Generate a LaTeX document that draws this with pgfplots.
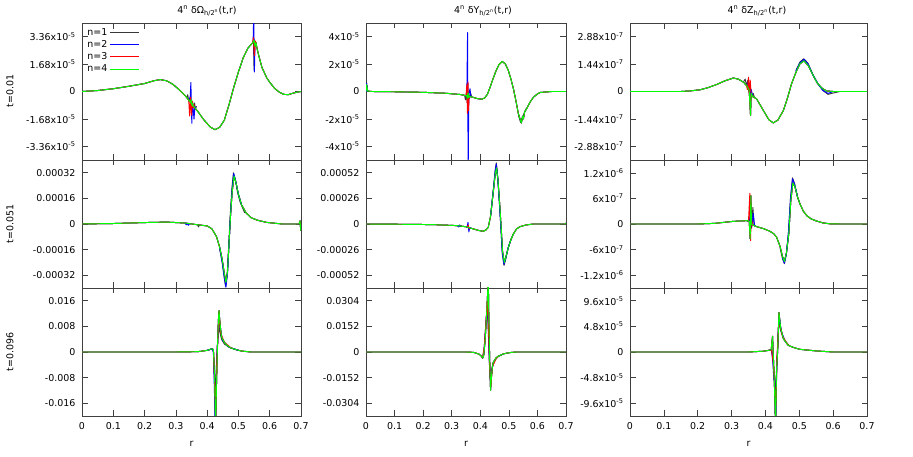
\documentclass[border=0pt]{standalone}
\usepackage{fontspec}
\setmainfont{DejaVu Sans}
\usepackage{pgfplots}
\usepackage{pgfplotstable}
\pgfplotsset{compat=1.18}
\definecolor{cA}{rgb}{0.22,0.22,0.22}
\definecolor{cB}{rgb}{0,0,1}
\definecolor{cC}{rgb}{1,0,0}
\definecolor{cD}{rgb}{0,1,0}
\definecolor{frm}{rgb}{0.25,0.25,0.25}

% ---------- base curves (n=4, shared by all series away from the features) ----------
\pgfplotstableread{
r y
0 0
0.05 0.6e-6
0.1 1.7e-6
0.15 3.2e-6
0.2 4.9e-6
0.23 6.6e-6
0.25 7.3e-6
0.27 6.6e-6
0.29 4.5e-6
0.31 1.2e-6
0.33 -2.6e-6
0.35 -7.4e-6
0.37 -12.2e-6
0.39 -17.5e-6
0.41 -21.8e-6
0.425 -23.4e-6
0.44 -22.0e-6
0.455 -17.5e-6
0.47 -8.0e-6
0.485 2.5e-6
0.5 12.0e-6
0.515 20.5e-6
0.53 26.5e-6
0.545 29.8e-6
0.55 31.5e-6
0.553 27.5e-6
0.556 30.0e-6
0.56 26.0e-6
0.565 22.0e-6
0.575 14.9e-6
0.59 8.5e-6
0.6 5.7e-6
0.615 2.0e-6
0.63 -0.3e-6
0.645 -1.8e-6
0.66 -1.9e-6
0.675 -1.0e-6
0.69 -0.3e-6
0.7 0
}\tA
\pgfplotstableread{
r y
0 0
0.1 0.3e-5
0.2 0.9e-5
0.27 1.2e-5
0.33 0.6e-5
0.37 -0.5e-5
0.4 -1.2e-5
0.415 -3.0e-5
0.43 -7.9e-5
0.44 -14.5e-5
0.448 -22e-5
0.455 -31e-5
0.46 -36.5e-5
0.465 -30e-5
0.47 -12e-5
0.475 6e-5
0.48 20e-5
0.486 30e-5
0.492 26e-5
0.5 18.5e-5
0.51 12e-5
0.525 6.8e-5
0.54 4e-5
0.56 2.4e-5
0.59 1e-5
0.64 0
0.694 0
0.697 2e-5
0.699 -4e-5
0.7 0
}\tB
\pgfplotstableread{
r y
0 0
0.3 0
0.37 0.0001
0.4 0.0005
0.415 0.001
0.42 0.0008
0.424 -0.008
0.427 -0.025
0.43 -0.01
0.433 0.002
0.436 0.010
0.438 0.0129
0.441 0.009
0.446 0.0047
0.455 0.0030
0.463 0.0021
0.475 0.0013
0.49 0.0008
0.51 0.0003
0.54 0
0.7 0
}\tC
\pgfplotstableread{
r y
0 0
0.002 5e-6
0.006 0.3e-6
0.02 0
0.1 -0.2e-6
0.2 -0.6e-6
0.28 -1.3e-6
0.33 -2.2e-6
0.35 -3.0e-6
0.37 -4.0e-6
0.39 -5.2e-6
0.405 -5.6e-6
0.415 -4.8e-6
0.425 -2.0e-6
0.435 3.5e-6
0.445 9.5e-6
0.455 15e-6
0.465 19.5e-6
0.477 22e-6
0.488 20e-6
0.498 15.4e-6
0.508 8.5e-6
0.516 2e-6
0.525 -7e-6
0.533 -16e-6
0.539 -20e-6
0.544 -23e-6
0.548 -18e-6
0.551 -20e-6
0.555 -15e-6
0.562 -12.6e-6
0.575 -7.5e-6
0.586 -4.2e-6
0.6 -1.8e-6
0.61 -0.7e-6
0.65 0
0.7 0
}\tD
\pgfplotstableread{
r y
0 0
0.1 -0.2e-5
0.2 -0.5e-5
0.24 -0.7e-5
0.3 -1.4e-5
0.32 -1.7e-5
0.35 -2.8e-5
0.376 -5e-5
0.395 -6.6e-5
0.41 -7.4e-5
0.42 -6.0e-5
0.428 -3.4e-5
0.436 8e-5
0.446 34e-5
0.452 50e-5
0.457 57e-5
0.462 44e-5
0.467 24e-5
0.473 -3e-5
0.478 -28e-5
0.484 -39e-5
0.49 -33e-5
0.498 -24e-5
0.507 -16e-5
0.516 -10e-5
0.527 -5e-5
0.539 -2.7e-5
0.56 -1e-5
0.586 0
0.698 0
0.7 1e-5
}\tE
\pgfplotstableread{
r y
0 0
0.35 0
0.376 -0.0002
0.395 -0.0012
0.404 -0.0025
0.408 -0.0036
0.412 -0.002
0.417 0.0069
0.422 0.022
0.426 0.036
0.428 0.045
0.430 0.02
0.433 -0.005
0.436 -0.0228
0.439 -0.015
0.443 -0.008
0.446 -0.006
0.455 -0.0035
0.463 -0.0025
0.48 -0.0012
0.492 -0.0007
0.51 -0.0002
0.53 0
0.7 0
}\tF
\pgfplotstableread{
r y
0 0
0.15 0
0.177 0.3e-8
0.207 0.9e-8
0.23 2.0e-8
0.256 3.7e-8
0.28 5.6e-8
0.305 7.1e-8
0.32 6.5e-8
0.335 4.9e-8
0.345 3.0e-8
0.352 0.5e-8
0.356 -12.6e-8
0.358 -1e-8
0.362 -2.5e-8
0.374 -3.9e-8
0.394 -10e-8
0.41 -14.8e-8
0.423 -16.5e-8
0.437 -15e-8
0.453 -10e-8
0.465 -3.5e-8
0.477 4e-8
0.49 10e-8
0.502 14.6e-8
0.514 16.1e-8
0.527 13.5e-8
0.541 8.4e-8
0.553 4.5e-8
0.566 1.9e-8
0.58 0.3e-8
0.6 0
0.7 0
}\tG
\pgfplotstableread{
r y
0 0
0.2 0
0.25 1.5e-8
0.305 6.2e-8
0.345 7.8e-8
0.352 7e-8
0.355 -3.5e-7
0.357 6.6e-7
0.359 -1e-8
0.364 -3e-8
0.374 -6.2e-8
0.395 -1.1e-7
0.413 -1.7e-7
0.425 -2.3e-7
0.433 -3.1e-7
0.443 -5.2e-7
0.45 -7.5e-7
0.456 -8.8e-7
0.462 -6.8e-7
0.469 -2.3e-7
0.475 5.5e-7
0.481 9.6e-7
0.487 8.8e-7
0.495 6.3e-7
0.502 4.7e-7
0.512 3e-7
0.522 1.95e-7
0.535 1.2e-7
0.551 7e-8
0.57 2.5e-8
0.59 0.5e-8
0.62 0
0.7 0
}\tH
\pgfplotstableread{
r y
0 0
0.35 0
0.394 1.5e-6
0.409 3e-6
0.417 4e-6
0.421 2.95e-5
0.423 0
0.426 -5e-5
0.43 -1.4e-4
0.433 -3e-5
0.436 0
0.44 7.4e-5
0.445 4.5e-5
0.453 2.5e-5
0.467 1.26e-5
0.485 8e-6
0.502 5e-6
0.55 2e-6
0.6 0
0.7 0
}\tI

\pgfplotsset{
  panel/.style={scale only axis, anchor=south west,
    xmin=0, xmax=0.7,
    xtick={0,0.1,0.2,0.3,0.4,0.5,0.6,0.7}, xticklabels={},
    tick align=inside, major tick length=5.5bp,
    every tick/.style={frm, line width=0.6bp},
    axis line style={frm, line width=0.8bp},
    scaled y ticks=false, scaled x ticks=false,
    yticklabel style={xshift=-3bp},
    xticklabel style={yshift=-3bp},
    every axis plot/.append style={line width=0.95bp, line join=round},
    clip=true},
  s1/.style={cA}, s2/.style={cB}, s3/.style={cC}, s4/.style={cD},
  bottom/.style={xticklabels={0,0.1,0.2,0.3,0.4,0.5,0.6,0.7}},
}

\begin{document}
\begin{tikzpicture}[font=\fontsize{9.5}{11}\selectfont]
\path[use as bounding box] (0,0) rectangle (913bp,457bp);

% ===== Row 1 =====
\begin{axis}[panel, at={(82bp,297bp)}, width=219bp, height=137bp,
  ymin=-4.2e-5, ymax=4.2e-5,
  ytick={-3.36e-5,-1.68e-5,0,1.68e-5,3.36e-5},
  yticklabels={-3.36x10\textsuperscript{-5},-1.68x10\textsuperscript{-5},0,1.68x10\textsuperscript{-5},3.36x10\textsuperscript{-5}},
  legend plot pos=right,
  legend image code/.code={\draw[#1, line width=0.95bp] (0bp,0bp) -- (29bp,0bp);},
  legend style={at={(0.015,0.975)}, anchor=north west, draw=none, fill=none,
    inner sep=0pt, row sep=-0.4pt, cells={anchor=west},
    nodes={inner sep=2pt, font=\fontsize{9.5}{11}\selectfont}}]
\addplot[s1] table {\tA}; \addlegendentry{n=1}
\addplot[s2] table {\tA}; \addlegendentry{n=2}
\addplot[s3] table {\tA}; \addlegendentry{n=3}
\addplot[s1, forget plot] coordinates {(0.335,-3.5e-6)(0.338,-2.0e-6)(0.341,-6e-6)(0.344,-4e-6)(0.35,-8e-6)(0.358,-9e-6)(0.36,-7e-6)(0.362,-11e-6)(0.366,-9e-6)};
\addplot[s1, forget plot] coordinates {(0.545,30e-6)(0.548,31e-6)(0.55,13e-6)(0.552,29e-6)(0.556,29e-6)};
\addplot[s2, forget plot] coordinates {(0.343,-5e-6)(0.346,-3e-6)(0.348,5.5e-6)(0.351,-19.5e-6)(0.353,-6e-6)(0.356,-12e-6)(0.358,-17e-6)(0.361,-9e-6)};
\addplot[s2, forget plot] coordinates {(0.544,29.5e-6)(0.547,31e-6)(0.549,48e-6)(0.551,12e-6)(0.553,28e-6)(0.557,29e-6)};
\addplot[s3, forget plot] coordinates {(0.341,-4.5e-6)(0.344,-15e-6)(0.347,-3.5e-6)(0.35,-14.5e-6)(0.353,-6e-6)(0.356,-10e-6)(0.359,-8e-6)};
\addplot[s3, forget plot] coordinates {(0.545,29.8e-6)(0.548,33e-6)(0.551,22e-6)(0.554,31e-6)(0.558,27e-6)};
\addplot[s4] table {\tA}; \addlegendentry{n=4}
\addplot[s4, forget plot] coordinates {(0.347,-6e-6)(0.35,-5e-6)(0.352,-9e-6)(0.355,-7e-6)};
\end{axis}

\begin{axis}[panel, at={(366bp,297bp)}, width=200bp, height=137bp,
  ymin=-5e-5, ymax=5e-5,
  ytick={-4e-5,-2e-5,0,2e-5,4e-5},
  yticklabels={-4x10\textsuperscript{-5},-2x10\textsuperscript{-5},0,2x10\textsuperscript{-5},4x10\textsuperscript{-5}}]
\addplot[s1] table {\tD};
\addplot[s2] table {\tD};
\addplot[s3] table {\tD};
\addplot[s1] coordinates {(0,0)(0.002,6.5e-6)(0.004,0)};
\addplot[s1] coordinates {(0.345,-2.8e-6)(0.348,-6e-6)(0.352,-2e-6)(0.354,-8e-6)(0.357,-1e-6)(0.362,-5e-6)(0.366,-1e-6)(0.37,-4e-6)};
\addplot[s1] coordinates {(0.533,-17e-6)(0.541,-22.5e-6)(0.549,-18.5e-6)(0.56,-12.5e-6)};
\addplot[s2] coordinates {(0,0)(0.002,6e-6)(0.005,0)};
\addplot[s2] coordinates {(0.35,-3e-6)(0.353,-1e-6)(0.3555,43e-6)(0.3575,-60e-6)(0.36,-2e-6)(0.364,2e-6)(0.367,-4e-6)};
\addplot[s3] coordinates {(0.35,-3e-6)(0.353,5e-6)(0.355,-16e-6)(0.357,7e-6)(0.359,-14e-6)(0.361,-3e-6)};
\addplot[s4] table {\tD};
\addplot[s4] coordinates {(0.35,-3e-6)(0.352,-2.8e-6)(0.355,-5e-6)(0.357,-1e-6)(0.36,-4.5e-6)(0.364,-3.2e-6)};
\end{axis}

\begin{axis}[panel, at={(630bp,297bp)}, width=237bp, height=137bp,
  ymin=-3.6e-7, ymax=3.6e-7,
  ytick={-2.88e-7,-1.44e-7,0,1.44e-7,2.88e-7},
  yticklabels={-2.88x10\textsuperscript{-7},-1.44x10\textsuperscript{-7},0,1.44x10\textsuperscript{-7},2.88x10\textsuperscript{-7}}]
\addplot[s1] table {\tG};
\addplot[s2] table {\tG};
\addplot[s3] table {\tG};
\addplot[s1] coordinates {(0.335,4.9e-8)(0.34,6.5e-8)(0.345,3e-8)(0.348,6e-8)(0.352,-0.5e-8)(0.356,2e-8)(0.36,-3e-8)(0.364,-1e-8)(0.368,-3.5e-8)};
\addplot[s1] coordinates {(0.49,11e-8)(0.502,15.5e-8)(0.513,17.2e-8)(0.525,15e-8)(0.54,9e-8)(0.555,4e-8)(0.57,0.5e-8)(0.585,-1.5e-8)(0.6,-0.8e-8)(0.62,0)};
\addplot[s2] coordinates {(0.345,3e-8)(0.35,5e-8)(0.354,-2e-8)(0.358,1e-8)(0.362,-2e-8)};
\addplot[s2] coordinates {(0.49,10.8e-8)(0.503,15.3e-8)(0.514,16.9e-8)(0.526,14.5e-8)(0.54,8.8e-8)(0.556,3.8e-8)(0.57,0.5e-8)(0.585,-1e-8)(0.6,0)};
\addplot[s3] coordinates {(0.343,3.5e-8)(0.347,1e-8)(0.35,7.5e-8)(0.352,-1e-8)(0.355,6e-8)(0.358,-2e-8)(0.362,-3e-8)};
\addplot[s4] table {\tG};
\end{axis}

% ===== Row 2 =====
\begin{axis}[panel, at={(82bp,169bp)}, width=219bp, height=128bp,
  ymin=-4e-4, ymax=4e-4,
  ytick={-0.00032,-0.00016,0,0.00016,0.00032},
  yticklabels={-0.00032,-0.00016,0,0.00016,0.00032}]
\addplot[s1] table {\tB};
\addplot[s2] table {\tB};
\addplot[s3] table {\tB};
\addplot[s1] coordinates {(0.44,-15.5e-5)(0.448,-24e-5)(0.455,-34e-5)(0.459,-39e-5)(0.464,-32e-5)(0.469,-13e-5)(0.474,6e-5)(0.479,22e-5)(0.484,32e-5)(0.49,28e-5)(0.497,20e-5)(0.505,14e-5)(0.52,7e-5)};
\addplot[s1] coordinates {(0.37,-0.5e-5)(0.372,-1.8e-5)(0.375,-0.8e-5)};
\addplot[s2] coordinates {(0.44,-15e-5)(0.448,-23.5e-5)(0.455,-33.5e-5)(0.46,-39.5e-5)(0.465,-31e-5)(0.47,-12e-5)(0.475,7e-5)(0.48,22e-5)(0.485,31.5e-5)(0.491,27e-5)(0.5,18.5e-5)(0.51,12e-5)};
\addplot[s2] coordinates {(0.33,0.6e-5)(0.333,-0.5e-5)(0.336,0.3e-5)(0.34,-0.8e-5)(0.345,0.5e-5)};
\addplot[s4] table {\tB};
\end{axis}

\begin{axis}[panel, at={(366bp,169bp)}, width=200bp, height=128bp,
  ymin=-6.5e-4, ymax=6.5e-4,
  ytick={-0.00052,-0.00026,0,0.00026,0.00052},
  yticklabels={-0.00052,-0.00026,0,0.00026,0.00052}]
\addplot[s1] table {\tE};
\addplot[s2] table {\tE};
\addplot[s3] table {\tE};
\addplot[s1] coordinates {(0.436,8e-5)(0.446,36e-5)(0.452,54e-5)(0.456,62e-5)(0.461,48e-5)(0.466,26e-5)(0.472,-3e-5)(0.477,-30e-5)(0.483,-42e-5)(0.489,-36e-5)(0.497,-25e-5)(0.507,-16e-5)(0.516,-10e-5)};
\addplot[s1] coordinates {(0.318,-1.6e-5)(0.322,-1.8e-5)(0.325,-3e-5)(0.328,-1e-5)(0.331,-2.2e-5)(0.335,-2e-5)};
\addplot[s2] coordinates {(0.436,8e-5)(0.446,35e-5)(0.452,53e-5)(0.456,61e-5)(0.461,47e-5)(0.466,25e-5)(0.472,-3e-5)(0.477,-29e-5)(0.483,-41e-5)(0.489,-35e-5)(0.497,-24.5e-5)(0.507,-16e-5)};
\addplot[s2] coordinates {(0.32,-1.7e-5)(0.324,-2.8e-5)(0.327,-1.2e-5)(0.33,-2e-5)};
\addplot[s2] coordinates {(0.35,-2.8e-5)(0.354,-3.2e-5)(0.357,1.7e-5)(0.36,-8e-5)(0.363,-3.6e-5)(0.367,-4e-5)};
\addplot[s3] coordinates {(0.352,-2.9e-5)(0.355,-3e-5)(0.358,-1e-5)(0.361,-5e-5)(0.364,-3.8e-5)};
\addplot[s4] table {\tE};
\end{axis}

\begin{axis}[panel, at={(630bp,169bp)}, width=237bp, height=128bp,
  ymin=-1.5e-6, ymax=1.5e-6,
  ytick={-1.2e-6,-6e-7,0,6e-7,1.2e-6},
  yticklabels={-1.2x10\textsuperscript{-6},-6x10\textsuperscript{-7},0,6x10\textsuperscript{-7},1.2x10\textsuperscript{-6}}]
\addplot[s1] table {\tH};
\addplot[s2] table {\tH};
\addplot[s3] table {\tH};
\addplot[s1] coordinates {(0.345,7.8e-8)(0.352,5e-8)(0.356,2e-7)(0.359,-1e-7)(0.363,3.9e-7)(0.366,-2e-8)(0.372,-6e-8)};
\addplot[s1] coordinates {(0.443,-5.5e-7)(0.45,-8e-7)(0.456,-9.3e-7)(0.462,-7e-7)(0.468,-2e-7)(0.474,6e-7)(0.48,1.08e-6)(0.486,9.5e-7)(0.494,6.5e-7)(0.502,4.7e-7)};
\addplot[s2] coordinates {(0.352,6e-8)(0.357,3e-7)(0.36,-5e-8)(0.364,2.5e-7)(0.368,-4e-8)};
\addplot[s2] coordinates {(0.45,-7.9e-7)(0.456,-9.2e-7)(0.462,-6.9e-7)(0.468,-2e-7)(0.474,5.8e-7)(0.48,1.06e-6)(0.486,9.3e-7)(0.495,6.4e-7)};
\addplot[s3] coordinates {(0.35,7e-8)(0.354,7.2e-7)(0.356,-3.9e-7)(0.358,2e-7)(0.362,-5e-8)};
\addplot[s4] table {\tH};
\end{axis}

% ===== Row 3 =====
\begin{axis}[panel, bottom, at={(82bp,41bp)}, width=219bp, height=128bp,
  ymin=-0.02, ymax=0.02,
  ytick={-0.016,-0.008,0,0.008,0.016},
  yticklabels={-0.016,-0.008,0,0.008,0.016}]
\addplot[s1] table {\tC};
\addplot[s2] table {\tC};
\addplot[s3] table {\tC};
\addplot[s1] coordinates {(0.4,0.0005)(0.415,0.001)(0.42,0.0005)(0.425,-0.012)(0.43,-0.004)(0.434,0.003)(0.437,0.009)(0.44,0.0065)(0.446,0.004)(0.455,0.0025)(0.47,0.0015)(0.5,0.0005)};
\addplot[s2] coordinates {(0.4,0.0005)(0.415,0.001)(0.42,0.0)(0.424,-0.015)(0.426,-0.025)(0.43,-0.003)(0.435,0.006)(0.438,0.011)(0.442,0.007)(0.45,0.0035)(0.47,0.0015)(0.5,0.0005)};
\addplot[s3] coordinates {(0.42,0.0008)(0.424,-0.01)(0.427,-0.02)(0.431,-0.002)(0.436,0.008)(0.439,0.011)(0.443,0.006)(0.455,0.003)(0.48,0.001)};
\addplot[s4] table {\tC};
\end{axis}

\begin{axis}[panel, bottom, at={(366bp,41bp)}, width=200bp, height=128bp,
  ymin=-0.038, ymax=0.038,
  ytick={-0.0304,-0.0152,0,0.0152,0.0304},
  yticklabels={-0.0304,-0.0152,0,0.0152,0.0304}]
\addplot[s1] table {\tF};
\addplot[s2] table {\tF};
\addplot[s3] table {\tF};
\addplot[s1] coordinates {(0.404,-0.0025)(0.408,-0.0036)(0.413,0.0)(0.418,0.012)(0.423,0.0248)(0.427,0.018)(0.431,-0.004)(0.435,-0.0168)(0.44,-0.011)(0.446,-0.006)(0.46,-0.003)(0.48,-0.0012)};
\addplot[s2] coordinates {(0.404,-0.0025)(0.408,-0.0036)(0.413,0.001)(0.418,0.013)(0.424,0.026)(0.428,0.016)(0.432,-0.006)(0.436,-0.018)(0.441,-0.01)(0.45,-0.005)(0.463,-0.0025)};
\addplot[s3] coordinates {(0.404,-0.0025)(0.408,-0.0035)(0.414,0.003)(0.42,0.018)(0.425,0.03)(0.429,0.012)(0.433,-0.01)(0.437,-0.02)(0.442,-0.009)(0.455,-0.004)(0.463,-0.0025)};
\addplot[s4] table {\tF};
\end{axis}

\begin{axis}[panel, bottom, at={(630bp,41bp)}, width=237bp, height=128bp,
  ymin=-1.2e-4, ymax=1.2e-4,
  ytick={-9.6e-5,-4.8e-5,0,4.8e-5,9.6e-5},
  yticklabels={-9.6x10\textsuperscript{-5},-4.8x10\textsuperscript{-5},0,4.8x10\textsuperscript{-5},9.6x10\textsuperscript{-5}}]
\addplot[s1] table {\tI};
\addplot[s2] table {\tI};
\addplot[s3] table {\tI};
\addplot[s1] coordinates {(0.409,3e-6)(0.418,4e-6)(0.422,-1e-5)(0.425,-4e-5)(0.43,-7.5e-5)(0.433,-3e-5)(0.437,2e-5)(0.44,6e-5)(0.445,4e-5)(0.455,2.3e-5)(0.47,1.2e-5)};
\addplot[s2] coordinates {(0.409,3e-6)(0.418,4e-6)(0.422,-2e-5)(0.425,-5.3e-5)(0.428,-5e-5)(0.43,-1.3e-4)(0.434,-2e-5)(0.438,4e-5)(0.441,6.5e-5)(0.447,3.8e-5)(0.46,1.8e-5)};
\addplot[s3] coordinates {(0.409,3e-6)(0.418,4e-6)(0.423,-2e-5)(0.427,-6e-5)(0.431,-1e-4)(0.434,-1e-5)(0.439,5e-5)(0.443,5e-5)(0.45,3e-5)(0.467,1.3e-5)};
\addplot[s4] table {\tI};
\end{axis}

% ===== titles and labels =====
\node at (207bp,446bp) {4\textsuperscript{n} δΩ\textsubscript{h/2\textsuperscript{n}}(t,r)};
\node at (483bp,446bp) {4\textsuperscript{n} δY\textsubscript{h/2\textsuperscript{n}}(t,r)};
\node at (757bp,446bp) {4\textsuperscript{n} δZ\textsubscript{h/2\textsuperscript{n}}(t,r)};
\node[rotate=90] at (10bp,366bp) {t=0.01};
\node[rotate=90] at (10bp,233bp) {t=0.051};
\node[rotate=90] at (10bp,105bp) {t=0.096};
\node at (191.5bp,13bp) {r};
\node at (466bp,13bp) {r};
\node at (748.5bp,13bp) {r};
\end{tikzpicture}
\end{document}
